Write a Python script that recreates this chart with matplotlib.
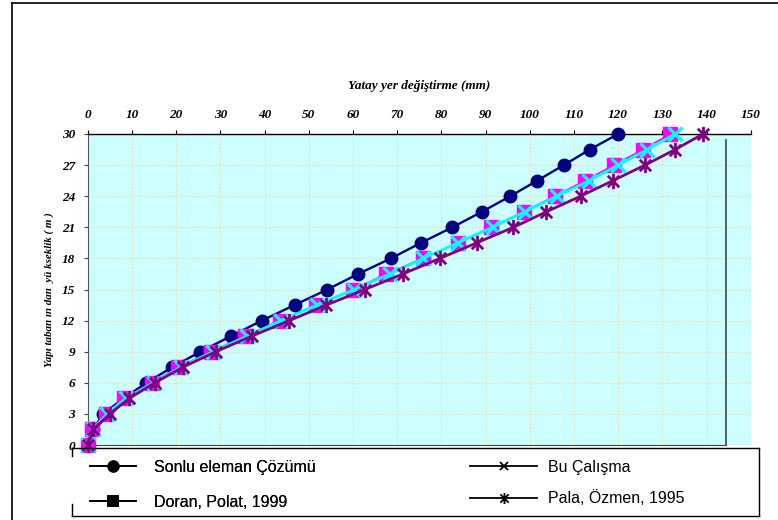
import matplotlib
matplotlib.use("Agg")
import matplotlib.pyplot as plt
from matplotlib.lines import Line2D
from matplotlib.path import Path

# kat yükseklikleri (m)
heights = [0, 1.5, 3, 4.5, 6, 7.5, 9, 10.5, 12, 13.5, 15,
           16.5, 18, 19.5, 21, 22.5, 24, 25.5, 27, 28.5, 30]

# yatay yer değiştirmeler (mm)
sonlu = [0, 1.3, 3.5, 8.1, 13.3, 19.1, 25.5, 32.4, 39.4, 46.8, 54.2,
         61.2, 68.6, 75.4, 82.5, 89.2, 95.6, 101.7, 107.7, 113.6, 120.0]
doran = [0, 1.0, 4.1, 8.2, 14.5, 20.5, 27.9, 35.6, 43.5, 51.7, 60.1,
         67.6, 75.8, 83.8, 91.2, 98.6, 105.7, 112.5, 119.1, 125.6, 131.8]
bu_calisma = [0, 1.2, 4.4, 8.6, 14.9, 21.0, 28.4, 36.1, 43.8, 51.9, 60.3,
              68.4, 75.9, 83.8, 91.6, 98.9, 106.1, 113.5, 120.0, 126.6, 132.9]
pala = [0, 1.3, 5.0, 9.4, 15.2, 21.5, 29.0, 37.1, 45.6, 54.0, 62.7,
        71.3, 79.7, 88.0, 96.3, 103.8, 111.5, 118.8, 126.1, 132.9, 139.2]

labels = ["Sonlu eleman Çözümü", "Doran, Polat, 1999", "Bu Çalışma", "Pala, Özmen, 1995"]

x_ticks = list(range(0, 151, 10))
y_ticks = list(range(0, 31, 3))

# x + dikey çizgi şeklinde yıldız
star = Path([(0, -1), (0, 1), (-0.75, -0.75), (0.75, 0.75), (-0.75, 0.75), (0.75, -0.75)],
            [Path.MOVETO, Path.LINETO, Path.MOVETO, Path.LINETO, Path.MOVETO, Path.LINETO])

serif = {"family": "Liberation Serif", "weight": "bold", "style": "italic"}

fig = plt.figure(figsize=(7.78, 5.2), dpi=100)
ax = fig.add_axes([87.7 / 778, 75 / 520, 663 / 778, 311 / 520])
ax.set_facecolor("#ccffff")

ax.plot(sonlu, heights, color="#000080", lw=1.7, marker="o", ms=9, zorder=3, clip_on=False)
ax.plot(doran, heights, color="#ff00ff", lw=1.2, marker="s", ms=10, zorder=4, clip_on=False)
ax.plot(bu_calisma, heights, color="#00ffff", lw=2.0, marker="x", ms=10.5, mew=2.3, zorder=5, clip_on=False)
ax.plot(pala, heights, color="#800080", lw=2.0, marker=star, ms=11, mew=2.0, zorder=6, clip_on=False)

ax.set_xlim(0, 150)
ax.set_ylim(0, 30)
ax.set_xticks(x_ticks)
ax.set_yticks(y_ticks)
ax.xaxis.tick_top()
ax.xaxis.set_label_position("top")
ax.tick_params(axis="x", direction="out", length=3, pad=6.5, colors="black")
ax.tick_params(axis="y", direction="out", length=3, pad=6, color="#444444", labelcolor="black")
for lab in ax.get_xticklabels() + ax.get_yticklabels():
    lab.set_fontproperties(serif)
    lab.set_fontsize(9.5)

ax.set_xlabel("Yatay yer değiştirme (mm)", fontsize=9.5, labelpad=14, **serif)
ax.set_ylabel("Yapı taban ın dan  yü kseklik ( m )", fontsize=7.9, labelpad=6, **serif)

ax.grid(True, color="#f5d9ae", linestyle=(0, (1.5, 1.5)), lw=0.8)
ax.set_axisbelow(True)

ax.spines["top"].set_color("black")
ax.spines["top"].set_linewidth(1.0)
ax.spines["left"].set_color("#555555")
ax.spines["bottom"].set_color("#444444")
ax.spines["bottom"].set_bounds(0, 144.5)
ax.spines["right"].set_visible(False)
ax.axvline(144.5, ymin=0, ymax=29.4 / 30, color="#444444", lw=1.2, zorder=2)

# dış çerçeve
fig.add_artist(Line2D([12 / 778, 12 / 778], [0, 517 / 520], color="black", lw=1.2))
fig.add_artist(Line2D([12 / 778, 1], [517 / 520, 517 / 520], color="black", lw=1.2))

# açıklama kutusu
bx0, bx1 = 72 / 778, 759 / 778
by0, by1 = 4 / 520, 72 / 520
for xs, ys in [([bx0, bx1], [by1, by1]), ([bx1, bx1], [by0, by1]), ([bx0, bx1], [by0, by0]),
               ([bx0, bx0], [by1 - 8 / 520, by1]), ([bx0, bx0], [by0, by0 + 12 / 520])]:
    fig.add_artist(Line2D(xs, ys, color="black", lw=1.0))

markers = ["o", "s", "x", star]
sizes = [7.5, 7.5, 6, 8]
handles = [Line2D([], [], color="black", lw=1.3, marker=m, ms=s, mew=1.3)
           for m, s in zip(markers, sizes)]

leg1 = fig.legend(handles[:2], labels[:2], loc="upper left", bbox_to_anchor=(90 / 778, 1 - 460 / 520),
                  frameon=False, handlelength=2.9, handletextpad=1.1,
                  labelspacing=1.25, borderpad=0, borderaxespad=0,
                  prop={"family": "Liberation Sans", "size": 11.5})
leg2 = fig.legend(handles[2:], labels[2:], loc="upper left", bbox_to_anchor=(470 / 778, 1 - 460 / 520),
                  frameon=False, handlelength=4.2, handletextpad=0.7,
                  labelspacing=0.95, borderpad=0, borderaxespad=0,
                  prop={"family": "Liberation Sans", "size": 11.5})
fig.add_artist(leg1)

fig.savefig("out.png", dpi=100)
